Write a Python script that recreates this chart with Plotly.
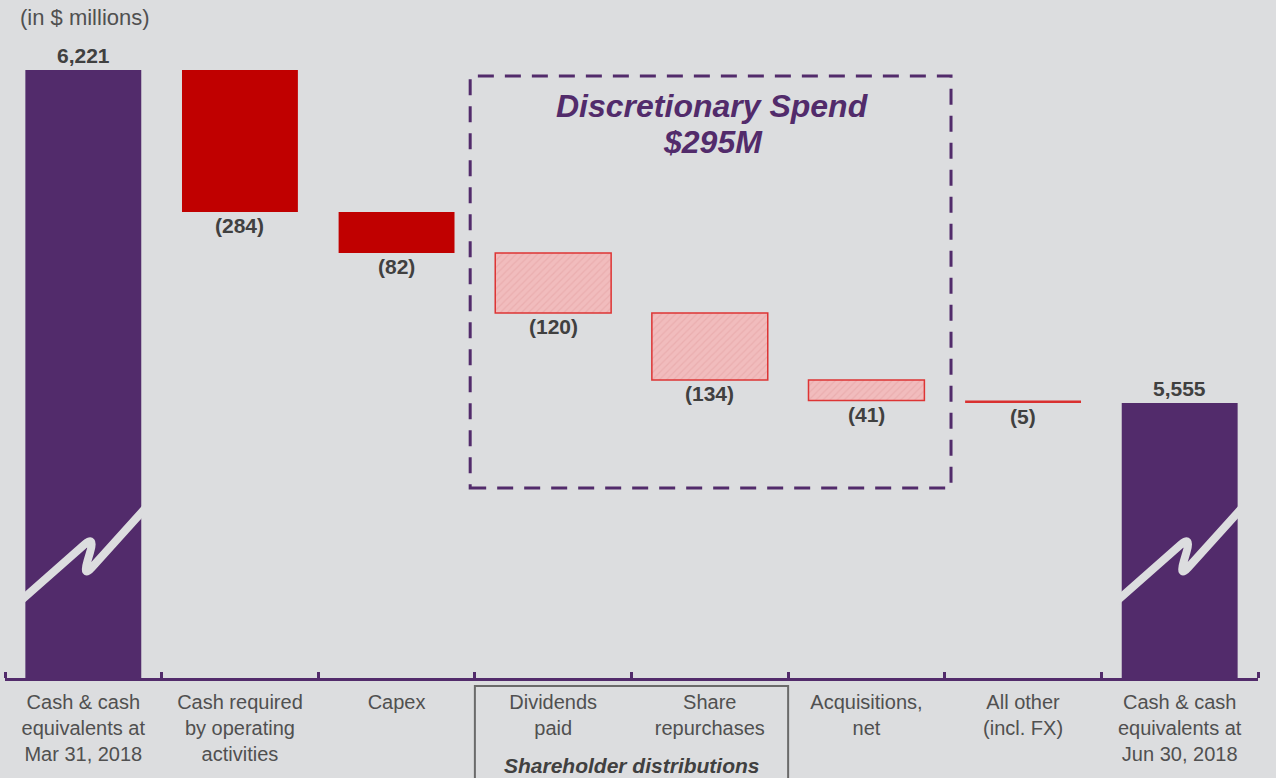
import plotly.graph_objects as go

# ---------------- data ----------------
categories = [
    "Cash & cash<br>equivalents at<br>Mar 31, 2018",
    "Cash required<br>by operating<br>activities",
    "Capex",
    "Dividends<br>paid",
    "Share<br>repurchases",
    "Acquisitions,<br>net",
    "All other<br>(incl. FX)",
    "Cash & cash<br>equivalents at<br>Jun 30, 2018",
]
start_cash = 6221
changes = [-284, -82, -120, -134, -41, -5]
end_cash = 5555
change_kind = ["red", "red", "pink", "pink", "pink", "line"]
value_labels = ["6,221", "(284)", "(82)", "(120)", "(134)", "(41)", "(5)", "5,555"]
axis_floor = 5005   # broken axis: bottom of visible range
axis_top = 6301

# ---------------- styles ----------------
BG = "#dcdddf"
PURPLE = "#522b6b"
RED = "#c00000"
PINK = "#f1bcbd"
PINK_EDGE = "#dd3434"
LINE_RED = "#d93030"
GRAY_TXT = "#505050"
DARK_TXT = "#404040"
FONT = "Liberation Sans, Arial, sans-serif"
BAR_W = 0.74

# ---------------- compute waterfall ----------------
levels = [start_cash]
for c in changes:
    levels.append(levels[-1] + c)

fig = go.Figure()

# totals
fig.add_trace(go.Bar(
    x=[0, 7], y=[start_cash, end_cash], base=[0, 0], width=BAR_W,
    marker=dict(color=PURPLE, line=dict(width=0)), hoverinfo="skip", showlegend=False,
))

for kind, col, pat, edge, ew in [
    ("red", RED, None, RED, 0),
    ("pink", PINK, dict(shape="/", fgcolor="#e3a0a2", bgcolor=PINK, size=5, solidity=0.25), PINK_EDGE, 1.5),
    ("line", LINE_RED, None, LINE_RED, 0),
]:
    xs, ys, bs = [], [], []
    for i, c in enumerate(changes):
        if change_kind[i] == kind:
            xs.append(i + 1)
            ys.append(-c)
            bs.append(levels[i + 1])
    m = dict(color=col, line=dict(width=ew, color=edge))
    if pat:
        m["pattern"] = pat
    fig.add_trace(go.Bar(x=xs, y=ys, base=bs, width=BAR_W, marker=m,
                         hoverinfo="skip", showlegend=False))

# value labels
lab_font = dict(family=FONT, size=21, color=DARK_TXT)
fig.add_annotation(x=0, y=start_cash, text="<b>%s</b>" % value_labels[0], showarrow=False,
                   yanchor="bottom", yshift=1, font=lab_font)
fig.add_annotation(x=7, y=end_cash, text="<b>%s</b>" % value_labels[7], showarrow=False,
                   yanchor="bottom", yshift=1, font=lab_font)
for i, c in enumerate(changes):
    fig.add_annotation(x=i + 1, y=levels[i + 1], text="<b>%s</b>" % value_labels[i + 1],
                       showarrow=False, yanchor="top", yshift=0, font=lab_font)

# break symbols on total bars (drawn in background colour)
PX_PER_CAT = 156.6
PX_PER_VAL = 0.5


def brk_path(c, ref_val):
    # offsets in pixels relative to bar centre and to the pixel of ref_val
    pts_px = [(-64, 0), (12, -67), (-1, -24), (64, -96)]

    def conv(dx, dy):
        return (c + dx / PX_PER_CAT, ref_val - dy / PX_PER_VAL)

    A, B, C, D = [conv(*p) for p in pts_px]

    def lerp(p, q, t):
        return (p[0] + (q[0] - p[0]) * t, p[1] + (q[1] - p[1]) * t)

    b1 = lerp(A, B, 0.85); b2 = lerp(B, C, 0.4)
    c1 = lerp(B, C, 0.6); c2 = lerp(C, D, 0.15)
    f = lambda p: "%.5f,%.3f" % p
    return ("M %s L %s Q %s %s L %s Q %s %s L %s" %
            (f(A), f(b1), f(B), f(b2), f(c1), f(C), f(c2), f(D)))


# reference value at the pixel row of the left start of the break
break_ref = start_cash - (602 - 70) / PX_PER_VAL
for c in (0, 7):
    fig.add_shape(type="path", path=brk_path(c, break_ref), xref="x", yref="y",
                  line=dict(color=BG, width=8), layer="above")

# dashed discretionary box
fig.add_shape(type="rect", xref="x", yref="y", x0=2.47, x1=5.54, y0=5385, y1=6209,
              line=dict(color=PURPLE, width=3, dash="16px,11px"), fillcolor="rgba(0,0,0,0)")
disc_font = dict(family=FONT, size=32, color=PURPLE)
fig.add_annotation(x=4.02, y=6221 - (106 - 70) * 2, xref="x", yref="y", showarrow=False,
                   yanchor="middle", text="<b><i>Discretionary Spend</i></b>", font=disc_font)
fig.add_annotation(x=4.02, y=6221 - (142 - 70) * 2, xref="x", yref="y", showarrow=False,
                   yanchor="middle", text="<b><i>$295M</i></b>", font=disc_font)

# shareholder distributions box below axis
fig.add_shape(type="rect", xref="x", yref="paper", x0=2.5, x1=4.5, y0=-0.0125, y1=-0.2,
              line=dict(color="#6a6a6a", width=2), fillcolor="rgba(0,0,0,0)")
fig.add_annotation(x=3.5, y=-0.135, xref="x", yref="paper", showarrow=False,
                   text="<b><i>Shareholder distributions</i></b>", yanchor="middle",
                   font=dict(family=FONT, size=21, color=DARK_TXT))

fig.add_annotation(x=0.01, y=1.0, xref="paper", yref="paper", showarrow=False,
                   xanchor="left", yanchor="bottom", yshift=-2,
                   text="(in $ millions)", font=dict(family=FONT, size=22, color=GRAY_TXT))

fig.update_layout(
    width=1276, height=778,
    paper_bgcolor=BG, plot_bgcolor=BG,
    margin=dict(l=5, r=18, t=30, b=100),
    barmode="overlay",
    font=dict(family=FONT, size=20, color=GRAY_TXT),
    xaxis=dict(
        range=[-0.5, 7.5], tickvals=list(range(8)), ticktext=categories,
        showgrid=False, zeroline=False, showline=True, linecolor=PURPLE, linewidth=3,
        ticks="", ticklabelstandoff=4, tickfont=dict(family=FONT, size=20, color=GRAY_TXT),
        minor=dict(ticks="inside", tick0=-0.5, dtick=1, ticklen=6, tickwidth=3,
                   tickcolor=PURPLE, showgrid=False),
    ),
    yaxis=dict(range=[axis_floor, axis_top], visible=False, showgrid=False),
)
fig.write_html("out.html", config={"displayModeBar": False},
               post_script="document.body.style.margin='0';")
